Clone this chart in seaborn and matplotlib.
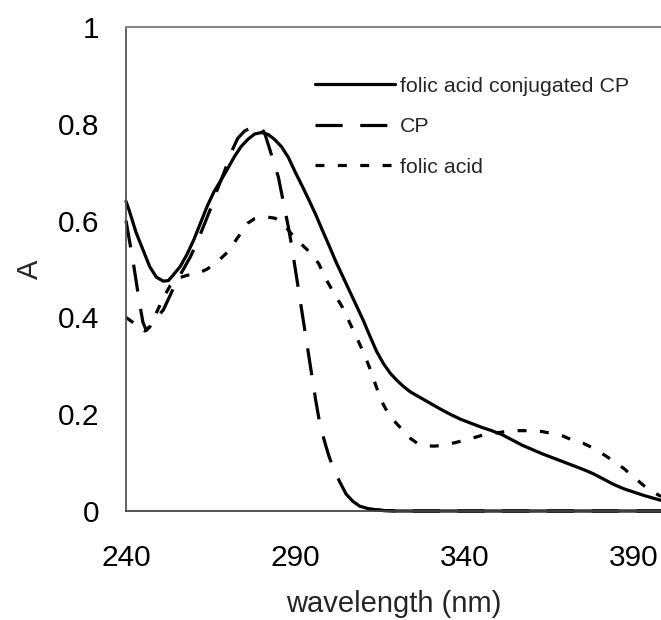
import numpy as np
import pandas as pd
import matplotlib
matplotlib.use("Agg")
import matplotlib.pyplot as plt
import seaborn as sns

# ---- data ----
wl_conj = [240, 241, 243, 245, 247, 249, 251, 252.5, 254, 256, 258, 260, 262, 264, 266, 268, 270,
           272, 274, 276, 278, 280, 282, 284, 286, 288, 290, 292, 294, 296, 298, 300, 302, 304,
           306, 308, 310, 312, 314, 316, 318, 320, 322, 324, 327, 330, 333, 336, 339, 342, 345,
           348, 351, 354, 357, 360, 363, 366, 369, 372, 375, 378, 381, 384, 387, 390, 393, 396, 398]
a_conj = [0.64, 0.62, 0.575, 0.54, 0.505, 0.483, 0.475, 0.476, 0.488, 0.505, 0.53, 0.56, 0.595,
          0.63, 0.66, 0.683, 0.707, 0.732, 0.753, 0.768, 0.779, 0.782, 0.778, 0.767, 0.752, 0.73,
          0.70, 0.672, 0.643, 0.613, 0.58, 0.548, 0.515, 0.485, 0.455, 0.425, 0.395, 0.362, 0.33,
          0.305, 0.285, 0.27, 0.257, 0.246, 0.234, 0.222, 0.21, 0.199, 0.189, 0.181, 0.173, 0.166,
          0.158, 0.147, 0.136, 0.127, 0.118, 0.11, 0.102, 0.094, 0.086, 0.077, 0.066, 0.055, 0.046,
          0.039, 0.032, 0.026, 0.022]

wl_cp = [240, 241, 242, 243, 244, 245, 246, 247.5, 249, 251, 253, 255, 257, 259, 261, 263, 265,
         267, 269, 271, 273, 275, 277, 279.5, 281, 283, 285, 287, 288, 289, 290, 292, 294, 296,
         297, 298, 299, 300, 301, 302, 303, 305, 307, 309, 312, 316, 320, 340, 360, 380, 398]
a_cp = [0.60, 0.56, 0.52, 0.475, 0.43, 0.39, 0.373, 0.385, 0.40, 0.415, 0.445, 0.476, 0.50,
        0.525, 0.555, 0.59, 0.625, 0.665, 0.70, 0.74, 0.77, 0.785, 0.792, 0.797, 0.78, 0.735,
        0.69, 0.62, 0.585, 0.545, 0.50, 0.41, 0.32, 0.23, 0.19, 0.16, 0.135, 0.112, 0.093, 0.077,
        0.062, 0.035, 0.02, 0.01, 0.004, 0.001, 0.0, 0.0, 0.0, 0.0, 0.0]

wl_fa = [240, 242, 244, 245.5, 247, 249, 251, 253, 255, 258, 261, 264, 267, 270, 273, 276, 278,
         280, 282, 284, 286, 288, 290, 292, 295, 297, 299, 301, 304, 306, 308, 310, 312, 314, 316,
         318, 320, 322, 324, 326, 328, 331, 334, 337, 340, 343, 346, 349, 352, 356, 360, 363, 366,
         369, 372, 375, 378, 381, 384, 387, 390, 393, 396, 398]
a_fa = [0.40, 0.39, 0.38, 0.372, 0.38, 0.41, 0.44, 0.465, 0.48, 0.487, 0.49, 0.50, 0.515, 0.535,
        0.565, 0.595, 0.604, 0.607, 0.607, 0.605, 0.597, 0.58, 0.563, 0.55, 0.53, 0.51, 0.48,
        0.455, 0.42, 0.39, 0.36, 0.33, 0.295, 0.255, 0.22, 0.195, 0.18, 0.165, 0.15, 0.14, 0.135,
        0.134, 0.136, 0.141, 0.146, 0.152, 0.158, 0.161, 0.164, 0.166, 0.166, 0.164, 0.16, 0.155,
        0.146, 0.14, 0.13, 0.117, 0.103, 0.088, 0.07, 0.052, 0.038, 0.03]

labels = ["folic acid conjugated CP", "CP", "folic acid"]
x_ticks = [240, 290, 340, 390]
y_ticks = [0, 0.2, 0.4, 0.6, 0.8, 1]
y_ticklabels = ["0", "0.2", "0.4", "0.6", "0.8", "1"]

sns.set_style("white")
plt.rcParams["font.family"] = ["Liberation Sans", "DejaVu Sans"]

fig = plt.figure(figsize=(6.61, 6.20), dpi=100)
ax = fig.add_axes([0.1906, 0.1758, 0.8094, 0.7806])

styles = ["-", (0, (8.5, 5.5)), (0, (2.8, 4.2))]
series = [(wl_conj, a_conj), (wl_cp, a_cp), (wl_fa, a_fa)]
for (xs, ys), lab, ls in zip(series, labels, styles):
    df = pd.DataFrame({"wavelength": xs, "A": ys})
    sns.lineplot(data=df, x="wavelength", y="A", ax=ax, color="black", linewidth=2.3,
                 linestyle=ls, label=lab, clip_on=False, estimator=None, sort=False)

# the flat tail of CP reads as a continuous line on the axis
df_tail = pd.DataFrame({"wavelength": wl_cp, "A": a_cp})
df_tail = df_tail[df_tail["wavelength"] >= 306]
sns.lineplot(data=df_tail, x="wavelength", y="A", ax=ax, color="black", linewidth=2.3,
             linestyle="-", clip_on=False, estimator=None, sort=False, legend=False)

ax.set_xlim(240, 398)
ax.set_ylim(0, 1)
ax.set_xticks(x_ticks)
ax.set_xticklabels([str(t) for t in x_ticks])
ax.set_yticks(y_ticks)
ax.set_yticklabels(y_ticklabels)
ax.tick_params(axis="both", labelsize=21.5, colors="black", direction="out")
ax.tick_params(axis="x", length=7, width=1, color="#555555", pad=17)
ax.tick_params(axis="y", length=7, width=1, color="#555555", pad=12)
ax.spines["right"].set_visible(False)
ax.spines["top"].set_color("#888888")
ax.spines["top"].set_linewidth(1.5)
ax.spines["left"].set_color("#555555")
ax.spines["left"].set_linewidth(1.3)
ax.spines["bottom"].set_color("#444444")
ax.spines["bottom"].set_linewidth(1.3)
ax.set_xlabel("wavelength (nm)", fontsize=21, labelpad=13)
ax.set_ylabel("A", fontsize=21, labelpad=10)

leg = ax.legend(loc="upper left", bbox_to_anchor=(0.338, 0.915), frameon=False, fontsize=15.4,
                handlelength=3.7, handletextpad=0.25, labelspacing=1.0, borderaxespad=0)

fig.savefig("out.png", dpi=100)
